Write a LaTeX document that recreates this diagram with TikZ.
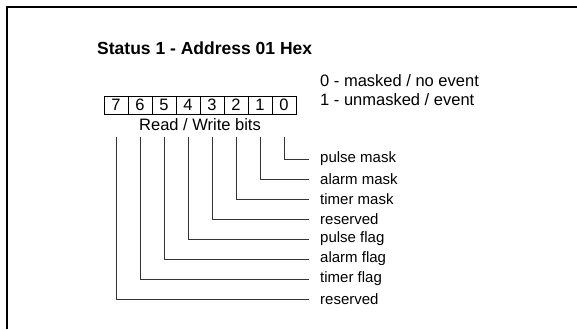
\documentclass[tikz,border=0pt]{standalone}
\usepackage{fontspec}
\setmainfont{Liberation Sans}
\begin{document}
\begin{tikzpicture}[x=1pt,y=-1pt,
  frame/.style={line width=1.5pt,black},
  titletext/.style={anchor=west,inner sep=0pt,font=\fontsize{17.5}{20}\selectfont\bfseries},
  plaintext/.style={anchor=west,inner sep=0pt,font=\fontsize{16.5}{19}\selectfont},
  labeltext/.style={anchor=west,inner sep=0pt,font=\fontsize{15}{18}\selectfont},
  cell/.style={draw=black,line width=0.8pt,minimum width=24pt,minimum height=18pt,inner sep=0pt,font=\fontsize{16.5}{19}\selectfont},
  leader/.style={draw=black!80,line width=0.9pt}]
\useasboundingbox (0,0) rectangle (577,329);
\draw[frame] (7,329) -- (7,7) -- (577,7);
\node[titletext] (title) at (97,48) {Status 1 - Address 01 Hex};
\foreach \b [count=\i from 0] in {7,6,5,4,3,2,1,0}
  \node[cell] (c\b) at (116+24*\i,105) {\b};
\node[plaintext,anchor=center] (rw) at (200,125) {Read / Write bits};
\node[plaintext] (l0) at (320,81) {0 - masked / no event};
\node[plaintext] (l1) at (320,100) {1 - unmasked / event};
\foreach \b/\t [count=\i from 0] in {0/pulse mask,1/alarm mask,2/timer mask,3/reserved,4/pulse flag,5/alarm flag,6/timer flag,7/reserved}{
  \node[labeltext] (lab\b) at (320,159+20*\i) {\t};
  \coordinate (top\b) at ([yshift=-6pt]c\b.south |- rw.south);
  \coordinate (end\b) at ([xshift=-11pt]lab\b.west);
  \draw[leader] (top\b) |- (end\b);
}
\end{tikzpicture}
\end{document}
